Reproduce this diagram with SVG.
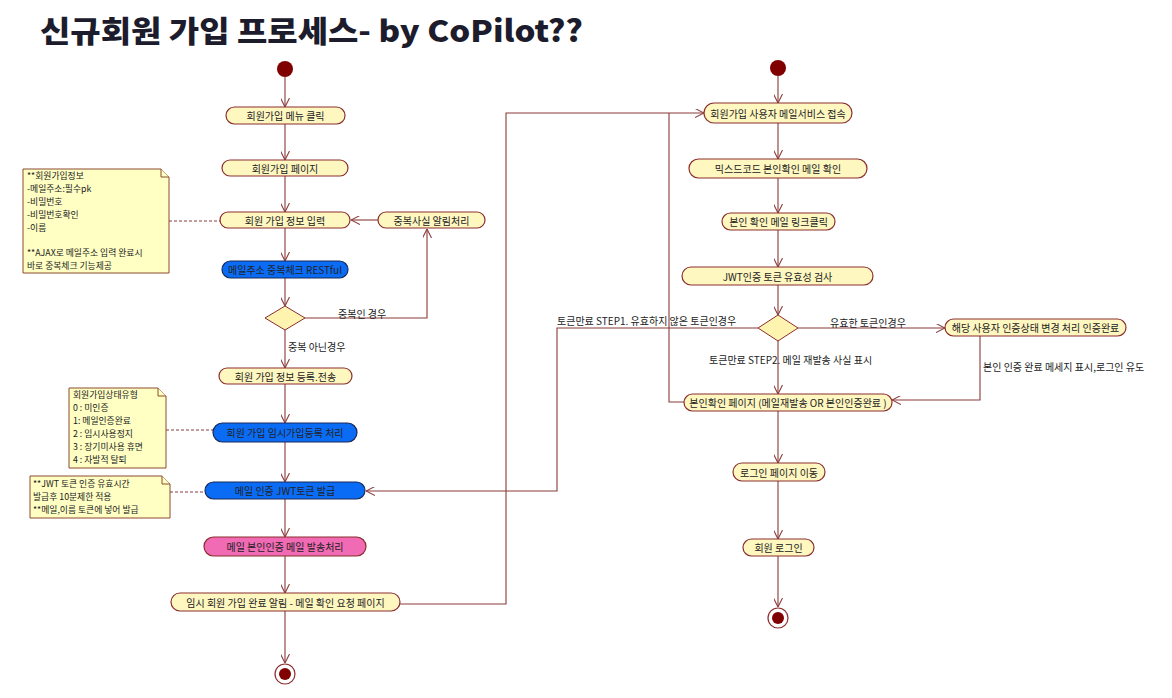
<svg xmlns="http://www.w3.org/2000/svg" width="1172" height="698" viewBox="0 0 1172 698">
<style>
.act{fill:#FFF7C0;stroke:#8B2E2E;stroke-width:1.2}
.blue{fill:#0A6CF5;stroke:#1a2a5a;stroke-width:1.2}
.pink{fill:#F06AB4;stroke:#8B2E2E;stroke-width:1.2}
.dia{fill:#FFF3B0;stroke:#8B2E2E;stroke-width:1}
.note{fill:#FFFFC4;stroke:#8B4A2E;stroke-width:1}
.t{font-family:"Noto Sans CJK KR","Noto Sans",sans-serif;font-size:10px;fill:#222;text-anchor:middle;dominant-baseline:central}
.tl{font-family:"Noto Sans CJK KR","Noto Sans",sans-serif;font-size:10px;fill:#222}
.tn{font-family:"Noto Sans CJK KR","Noto Sans",sans-serif;font-size:8.8px;fill:#222}
.ln{fill:none;stroke:#8B3A3A;stroke-width:1.1}
.dash{fill:none;stroke:#8B3A3A;stroke-width:1;stroke-dasharray:3,2}
.start{fill:#800000}
</style>
<defs>
<marker id="arr" viewBox="0 0 10 10" refX="10" refY="5" markerWidth="9" markerHeight="9" markerUnits="userSpaceOnUse" orient="auto">
<path d="M0,0 L10,5 L0,10" fill="none" stroke="#8B3A3A" stroke-width="1.2"/>
</marker>
</defs>
<rect width="1172" height="698" fill="#fff"/>
<text x="40" y="42" font-family="'Noto Sans CJK KR','Noto Sans',sans-serif" font-weight="900" font-size="30" fill="#1c1c2c" textLength="543" lengthAdjust="spacingAndGlyphs">신규회원 가입 프로세스- by CoPilot??</text>

<g id="connectors">
<path class="ln" d="M285,77 V107" marker-end="url(#arr)"/>
<path class="ln" d="M285,124 V160" marker-end="url(#arr)"/>
<path class="ln" d="M285,176 V212" marker-end="url(#arr)"/>
<path class="ln" d="M285,228 V261" marker-end="url(#arr)"/>
<path class="ln" d="M285,278 V306" marker-end="url(#arr)"/>
<path class="ln" d="M305,318 H427 V229" marker-end="url(#arr)"/>
<path class="ln" d="M378,220 H351" marker-end="url(#arr)"/>
<path class="ln" d="M285,330 V368" marker-end="url(#arr)"/>
<path class="ln" d="M285,384 V423" marker-end="url(#arr)"/>
<path class="ln" d="M285,442 V482" marker-end="url(#arr)"/>
<path class="ln" d="M285,499 V537" marker-end="url(#arr)"/>
<path class="ln" d="M285,556 V593" marker-end="url(#arr)"/>
<path class="ln" d="M285,611 V663" marker-end="url(#arr)"/>
<path class="ln" d="M400,604 H506 V113 H704" marker-end="url(#arr)"/>
<path class="dash" d="M169,221 H220"/>
<path class="dash" d="M166,430 H213"/>
<path class="dash" d="M170,492 H205"/>

<path class="ln" d="M778,76 V103" marker-end="url(#arr)"/>
<path class="ln" d="M778,123 V159" marker-end="url(#arr)"/>
<path class="ln" d="M778,178 V213" marker-end="url(#arr)"/>
<path class="ln" d="M778,230 V267" marker-end="url(#arr)"/>
<path class="ln" d="M778,285 V315" marker-end="url(#arr)"/>
<path class="ln" d="M798,328 H945" marker-end="url(#arr)"/>
<path class="ln" d="M758,328 H557 V491 H366" marker-end="url(#arr)"/>
<path class="ln" d="M778,341 V394" marker-end="url(#arr)"/>
<path class="ln" d="M980,336 V400 H892" marker-end="url(#arr)"/>
<path class="ln" d="M684,402 H669 V113"/>
<path class="ln" d="M778,411 V463" marker-end="url(#arr)"/>
<path class="ln" d="M778,481 V539" marker-end="url(#arr)"/>
<path class="ln" d="M778,556 V607" marker-end="url(#arr)"/>

<text class="tl" x="338" y="318">중복인 경우</text>
<text class="tl" x="288" y="351">중복 아닌경우</text>
<text class="tl" x="557" y="325">토큰만료 STEP1. 유효하지 않은 토큰인경우</text>
<text class="tl" x="830" y="327">유효한 토큰인경우</text>
<text class="tl" x="709" y="364">토큰만료 STEP2. 메일 재발송 사실 표시</text>
<text class="tl" x="983" y="371">본인 인증 완료 메세지 표시,로그인 유도</text>
</g>

<g id="start1"><circle class="start" cx="285" cy="69" r="8"/></g>
<g id="n1"><rect class="act" x="226" y="107" width="119" height="17" rx="8.5"/><text class="t" x="285.5" y="115.5">회원가입 메뉴 클릭</text></g>
<g id="n2"><rect class="act" x="222" y="160" width="126" height="16" rx="8"/><text class="t" x="285" y="168">회원가입 페이지</text></g>
<g id="n3"><rect class="act" x="220" y="212" width="130" height="16" rx="8"/><text class="t" x="285" y="220">회원 가입 정보 입력</text></g>
<g id="n4"><rect class="act" x="378" y="212" width="107" height="16" rx="8"/><text class="t" x="431.5" y="220">중복사실 알림처리</text></g>
<g id="n5"><rect class="blue" x="222" y="261" width="126" height="17" rx="8.5"/><text class="t" x="285" y="269.5">메일주소 중복체크 RESTful</text></g>
<g id="d1"><polygon class="dia" points="285,306 305,318 285,330 265,318"/></g>
<g id="n6"><rect class="act" x="219" y="368" width="133" height="16" rx="8"/><text class="t" x="285.5" y="376">회원 가입 정보 등록.전송</text></g>
<g id="n7"><rect class="blue" x="213" y="423" width="144" height="19" rx="9.5"/><text class="t" x="285" y="432.5">회원 가입 임시가입등록 처리</text></g>
<g id="n8"><rect class="blue" x="205" y="482" width="160" height="17" rx="8.5"/><text class="t" x="285" y="490.5">메일 인증 JWT토큰 발급</text></g>
<g id="n9"><rect class="pink" x="204" y="537" width="162" height="19" rx="9.5"/><text class="t" x="285" y="546.5">메일 본인인증 메일 발송처리</text></g>
<g id="n10"><rect class="act" x="171" y="593" width="229" height="18" rx="9"/><text class="t" x="285.5" y="602">임시 회원 가입 완료 알림 - 메일 확인 요청 페이지</text></g>
<g id="end1"><circle cx="285" cy="674" r="10" fill="#fff" stroke="#8B2E2E" stroke-width="1.2"/><circle class="start" cx="285" cy="674" r="6"/></g>

<g id="note1"><path class="note" d="M23,169 H161 L169,177 V273 H23 Z"/><path class="note" d="M161,169 V177 H169"/>
<text class="tn" x="27" y="179">**회원가입정보</text>
<text class="tn" x="27" y="192">-메일주소:필수pk</text>
<text class="tn" x="27" y="205">-비밀번호</text>
<text class="tn" x="27" y="218">-비밀번호확인</text>
<text class="tn" x="27" y="231">-이름</text>
<text class="tn" x="27" y="256">**AJAX로 메일주소 입력 완료시</text>
<text class="tn" x="27" y="269">바로 중복체크 기능제공</text></g>
<g id="note2"><path class="note" d="M69,388 H158 L166,396 V468 H69 Z"/><path class="note" d="M158,388 V396 H166"/>
<text class="tn" x="73" y="398">회원가입상태유형</text>
<text class="tn" x="73" y="411">0 : 미인증</text>
<text class="tn" x="73" y="424">1: 메일인증완료</text>
<text class="tn" x="73" y="437">2 : 임시사용정지</text>
<text class="tn" x="73" y="450">3 : 장기미사용 휴면</text>
<text class="tn" x="73" y="463">4 : 자발적 탈퇴</text></g>
<g id="note3"><path class="note" d="M30,476 H162 L170,484 V518 H30 Z"/><path class="note" d="M162,476 V484 H170"/>
<text class="tn" x="33" y="487">**JWT 토큰 인증 유효시간</text>
<text class="tn" x="33" y="500">발급후 10분제한 적용</text>
<text class="tn" x="33" y="513">**메일,이름 토큰에 넣어 발급</text></g>

<g id="start2"><circle class="start" cx="778" cy="68" r="8"/></g>
<g id="m1"><rect class="act" x="704" y="103" width="148" height="20" rx="10"/><text class="t" x="778" y="113">회원가입 사용자 메일서비스 접속</text></g>
<g id="m2"><rect class="act" x="689" y="159" width="178" height="19" rx="9.5"/><text class="t" x="778" y="168.5">믹스드코드 본인확인 메일 확인</text></g>
<g id="m3"><rect class="act" x="722" y="213" width="113" height="17" rx="8.5"/><text class="t" x="778.5" y="221.5">본인 확인 메일 링크클릭</text></g>
<g id="m4"><rect class="act" x="682" y="267" width="191" height="18" rx="9"/><text class="t" x="777.5" y="276">JWT인증 토큰 유효성 검사</text></g>
<g id="d2"><polygon class="dia" points="778,315 798,328 778,341 758,328"/></g>
<g id="m5"><rect class="act" x="945" y="319" width="181" height="17" rx="8.5"/><text class="t" x="1035.5" y="327.5">해당 사용자 인증상태 변경 처리 인증완료</text></g>
<g id="m6"><rect class="act" x="684" y="394" width="208" height="17" rx="8.5"/><text class="t" x="788" y="402.5">본인확인 페이지 (메일재발송 OR 본인인증완료 )</text></g>
<g id="m7"><rect class="act" x="733" y="463" width="92" height="18" rx="9"/><text class="t" x="779" y="472">로그인 페이지 이동</text></g>
<g id="m8"><rect class="act" x="743" y="539" width="71" height="17" rx="8.5"/><text class="t" x="778.5" y="547.5">회원 로그인</text></g>
<g id="end2"><circle cx="778" cy="618" r="10" fill="#fff" stroke="#8B2E2E" stroke-width="1.2"/><circle class="start" cx="778" cy="618" r="6"/></g>
</svg>
